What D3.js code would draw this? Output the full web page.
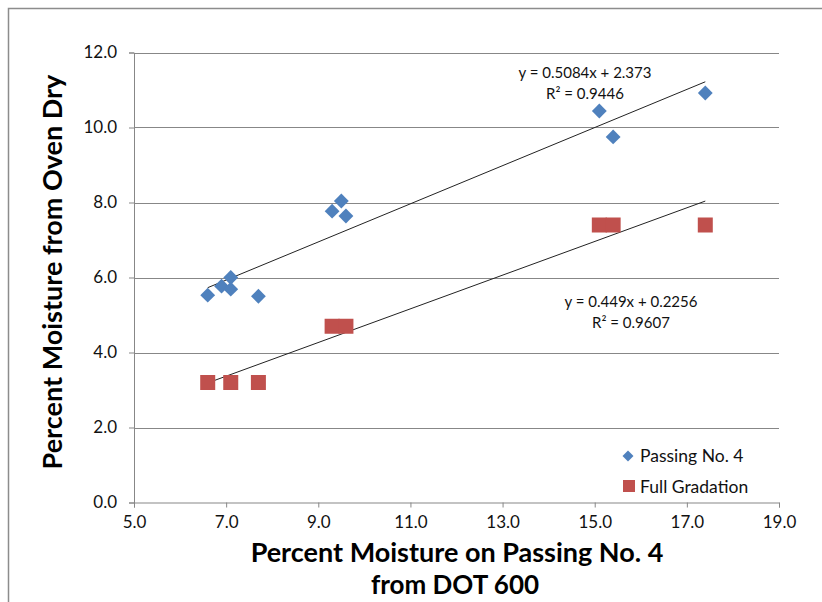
<!DOCTYPE html>
<html>
<head>
<meta charset="utf-8">
<script src="https://cdn.jsdelivr.net/npm/d3@7"></script>
<style>
body { margin: 0; background: #fff; }
svg { display: block; font-family: Lato, "Open Sans", sans-serif; }
</style>
</head>
<body>
<div class="content"></div>
<script>
var width = 822;
var height = 602;

// values
var passingX = [6.6, 6.9, 7.1, 7.1, 7.7, 9.3, 9.5, 9.6, 15.1, 15.4, 17.4];
var passingY = [5.53, 5.77, 6.0, 5.69, 5.5, 7.77, 8.04, 7.64, 10.44, 9.75, 10.92];
var fullX = [6.6, 7.1, 7.7, 9.3, 9.6, 15.1, 15.4, 17.4];
var fullY = [3.2, 3.2, 3.2, 4.7, 4.7, 7.4, 7.4, 7.4];
var xTicks = [5, 7, 9, 11, 13, 15, 17, 19];
var yTicks = [0, 2, 4, 6, 8, 10, 12];
var passingFit = { slope: 0.5084, icpt: 2.373, eq: "y = 0.5084x + 2.373", r2: "R² = 0.9446" };
var fullFit = { slope: 0.449, icpt: 0.2256, eq: "y = 0.449x + 0.2256", r2: "R² = 0.9607" };

var blue = "#4f81bd", red = "#c0504d", grid = "#878787";

var svg = d3.select(".content").append("svg").attr("width", width).attr("height", height);

// chart frame
svg.append("rect").attr("x", 8.5).attr("y", 8.5).attr("width", 830).attr("height", 610)
  .attr("fill", "none").attr("stroke", "#8c8c8c").attr("stroke-width", 1.5);

var x = d3.scaleLinear().domain([5, 19]).range([134, 779]);
var y = d3.scaleLinear().domain([0, 12]).range([502.5, 52.5]);

// gridlines
svg.append("g").selectAll("line").data(yTicks.slice(1)).enter().append("line")
  .attr("x1", x(5)).attr("x2", x(19))
  .attr("y1", function(d){ return Math.round(y(d)) + 0.5; })
  .attr("y2", function(d){ return Math.round(y(d)) + 0.5; })
  .attr("stroke", grid).attr("stroke-width", 1);

// axes
var yAxis = svg.append("g").attr("transform", "translate(" + x(5) + ",0)")
  .call(d3.axisLeft(y).tickValues(yTicks).tickSize(5).tickPadding(12).tickFormat(d3.format(".1f")));
var xAxis = svg.append("g").attr("transform", "translate(0," + y(0) + ")")
  .call(d3.axisBottom(x).tickValues(xTicks).tickSize(5).tickPadding(8).tickFormat(d3.format(".1f")));
[xAxis, yAxis].forEach(function(a){
  a.select(".domain").attr("stroke", grid);
  a.selectAll(".tick line").attr("stroke", grid);
  a.selectAll("text").attr("font-family", "Lato, sans-serif").attr("font-size", 17).attr("fill", "#111");
});

// trendlines
function trend(xs, fit){
  var lo = d3.min(xs), hi = d3.max(xs);
  svg.append("line")
    .attr("x1", x(lo)).attr("y1", y(fit.slope * lo + fit.icpt))
    .attr("x2", x(hi)).attr("y2", y(fit.slope * hi + fit.icpt))
    .attr("stroke", "#222").attr("stroke-width", 1);
}
trend(passingX, passingFit);
trend(fullX, fullFit);

// markers
var diamond = d3.symbol().type(d3.symbolSquare).size(110);
svg.append("g").selectAll("path").data(passingX).enter().append("path")
  .attr("d", diamond)
  .attr("transform", function(d, i){ return "translate(" + x(d) + "," + y(passingY[i]) + ") rotate(45)"; })
  .attr("fill", blue);

svg.append("g").selectAll("rect").data(fullX).enter().append("rect")
  .attr("x", function(d){ return x(d) - 7.5; })
  .attr("y", function(d, i){ return y(fullY[i]) - 7.5; })
  .attr("width", 15).attr("height", 15)
  .attr("fill", red);

// equations
function eqLabel(fit, cx, cy){
  var t = svg.append("text").attr("text-anchor", "middle").attr("font-size", 15).attr("fill", "#111");
  t.append("tspan").attr("x", cx).attr("y", cy).text(fit.eq);
  t.append("tspan").attr("x", cx).attr("y", cy + 21).text(fit.r2);
}
eqLabel(passingFit, 585, 78);
eqLabel(fullFit, 631, 307);

// legend
var lg = svg.append("g").attr("font-size", 17.5).attr("fill", "#111");
lg.append("path").attr("d", d3.symbol().type(d3.symbolSquare).size(60))
  .attr("transform", "translate(628,456) rotate(45)").attr("fill", blue);
lg.append("text").attr("x", 640).attr("y", 462).text("Passing No. 4");
lg.append("rect").attr("x", 623).attr("y", 480).attr("width", 12).attr("height", 12).attr("fill", red);
lg.append("text").attr("x", 640).attr("y", 493).text("Full Gradation");

// axis titles
svg.append("text").attr("x", 457).attr("y", 562).attr("text-anchor", "middle")
  .attr("font-size", 27).attr("font-weight", "bold").attr("fill", "#000")
  .text("Percent Moisture on Passing No. 4");
svg.append("text").attr("x", 455).attr("y", 594).attr("text-anchor", "middle")
  .attr("font-size", 26).attr("font-weight", "bold").attr("fill", "#000")
  .text("from DOT 600");
svg.append("text").attr("transform", "translate(62,272) rotate(-90)").attr("text-anchor", "middle")
  .attr("font-size", 27).attr("font-weight", "bold").attr("fill", "#000")
  .text("Percent Moisture from Oven Dry");
</script>
</body>
</html>
